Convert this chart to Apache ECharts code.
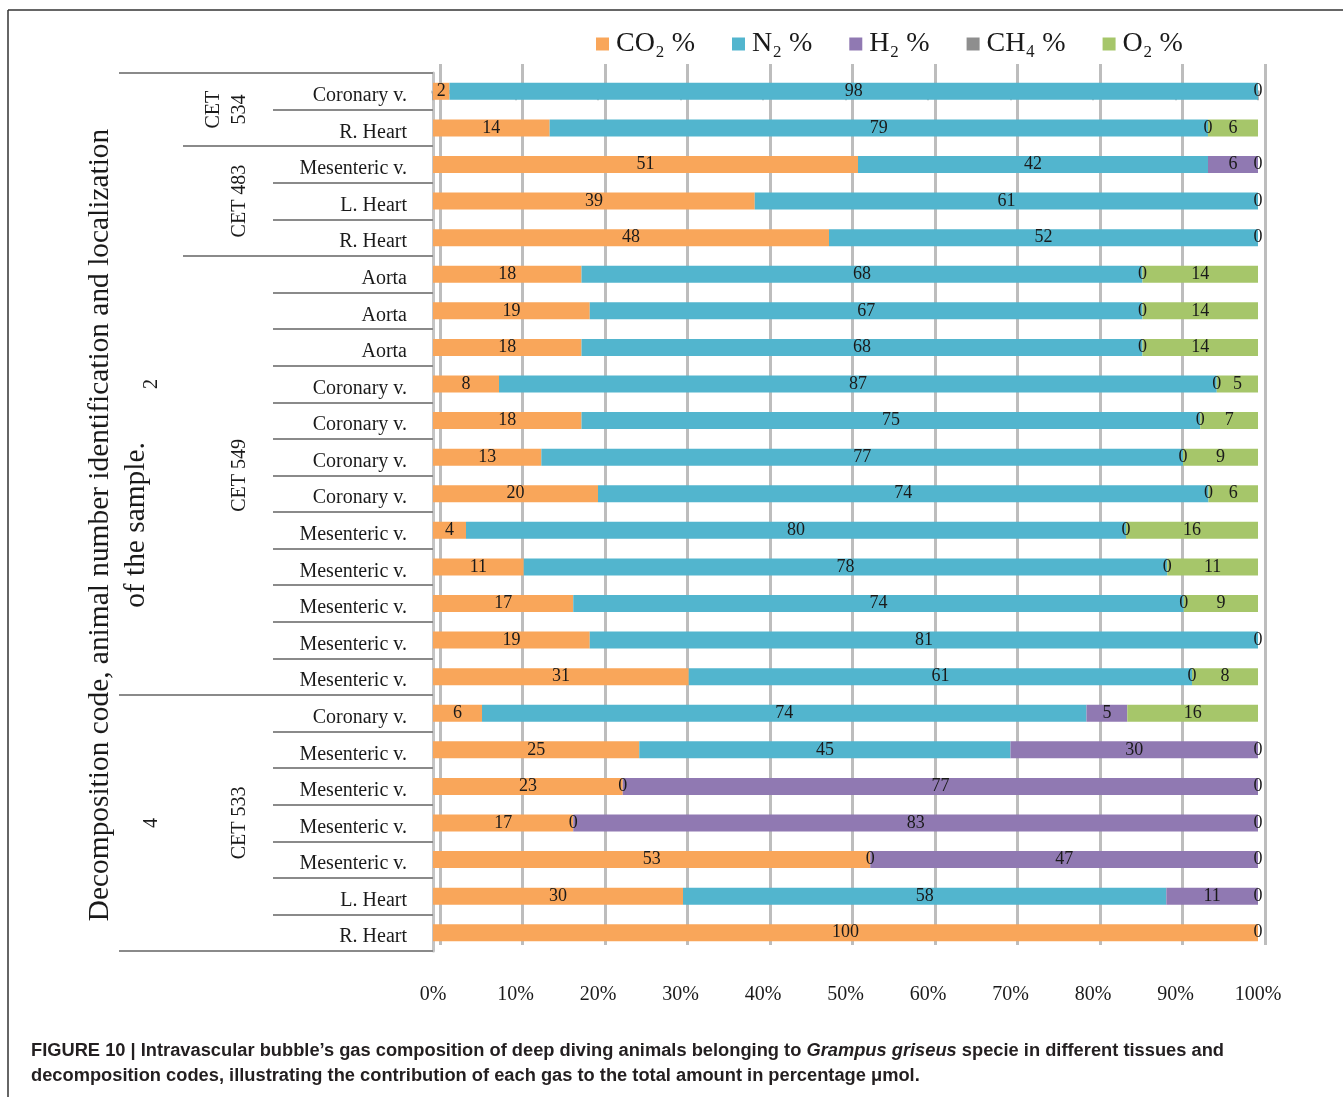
<!DOCTYPE html>
<html>
<head>
<meta charset="utf-8">
<script src="https://cdn.jsdelivr.net/npm/echarts@6/dist/echarts.min.js"></script>
<style>
  html, body { margin: 0; padding: 0; background: #ffffff; }
  #chart { width: 1343px; height: 1097px; }
</style>
</head>
<body>
<div id="chart"></div>
<script>
// ---------- DATA ----------
const tissues = ['Coronary v.', 'R. Heart', 'Mesenteric v.', 'L. Heart', 'R. Heart', 'Aorta', 'Aorta', 'Aorta',
  'Coronary v.', 'Coronary v.', 'Coronary v.', 'Coronary v.', 'Mesenteric v.', 'Mesenteric v.', 'Mesenteric v.',
  'Mesenteric v.', 'Mesenteric v.', 'Coronary v.', 'Mesenteric v.', 'Mesenteric v.', 'Mesenteric v.',
  'Mesenteric v.', 'L. Heart', 'R. Heart'];

const co2 = [2, 14, 51, 39, 48, 18, 19, 18, 8, 18, 13, 20, 4, 11, 17, 19, 31, 6, 25, 23, 17, 53, 30, 100];
const n2  = [98, 79, 42, 61, 52, 68, 67, 68, 87, 75, 77, 74, 80, 78, 74, 81, 61, 74, 45, 0, 0, 0, 58, null];
const h2  = [null, 0, 6, null, null, 0, 0, 0, 0, 0, 0, 0, 0, 0, 0, null, 0, 5, 30, 77, 83, 47, 11, null];
const ch4 = [null, null, null, null, null, null, null, null, null, null, null, null, null, null, null, null, null, null, null, null, null, null, null, null];
const o2  = [0, 6, 0, 0, 0, 14, 14, 14, 5, 7, 9, 6, 16, 11, 9, 0, 8, 16, 0, 0, 0, 0, 0, 0];

const seriesNames = ['CO₂ %', 'N₂ %', 'H₂ %', 'CH₄ %', 'O₂ %'];

const animalLabels = ['CET\n534', 'CET 483', 'CET 549', 'CET 533'];
const animalStart  = [0, 2, 5, 17];
const animalEnd    = [1, 4, 16, 23];

const codeLabels = ['2', '4'];
const codeStart  = [0, 17];
const codeEnd    = [16, 23];

const xTicks = [0, 10, 20, 30, 40, 50, 60, 70, 80, 90, 100];

const yTitle = 'Decomposition code, animal number identification and localization\nof the sample.';

// ---------- BUILD ----------
const colors = ['#F9A65A', '#52B5CE', '#9079B2', '#8E8E8E', '#A6C66A'];
const allSeries = [co2, n2, h2, ch4, o2];
const totals = tissues.map((_, i) => allSeries.reduce((s, arr) => s + (arr[i] == null ? 0 : arr[i]), 0));

const serif = '"Liberation Serif", "Times New Roman", "DejaVu Serif", serif';

const animalCenters = animalStart.map((s, i) => (s + animalEnd[i]) / 2);
const animalBounds = animalStart.slice(1).map(s => s - 0.5)
  .filter(b => codeStart.indexOf(b + 0.5) < 0);
const codeCenters = codeStart.map((s, i) => (s + codeEnd[i]) / 2);
const codeBounds = [codeStart[0] - 0.5].concat(codeStart.slice(1).map(s => s - 0.5), [codeEnd[codeEnd.length - 1] + 0.5]);

const nRows = tissues.length;

const barSeries = allSeries.map((arr, k) => ({
  name: seriesNames[k],
  type: 'bar',
  stack: 'total',
  xAxisIndex: 0,
  yAxisIndex: 0,
  barWidth: 17,
  itemStyle: { color: colors[k] },
  label: {
    show: true,
    position: 'inside',
    color: '#1a1a1a',
    fontFamily: serif,
    fontSize: 18,
    formatter: p => (p.data && p.data.raw != null) ? String(p.data.raw) : ''
  },
  data: arr.map((v, i) => v == null ? { value: null, raw: null } : { value: v / totals[i] * 100, raw: v })
}));

const option = {
  backgroundColor: '#ffffff',
  animation: false,
  color: colors,
  title: {
    left: 26,
    top: 1033,
    text: '{b|FIGURE 10 | Intravascular bubble’s gas composition of deep diving animals belonging to }{i|Grampus griseus}{b| specie in different tissues and}\n{b|decomposition codes, illustrating the contribution of each gas to the total amount in percentage μmol.}',
    textStyle: {
      rich: {
        b: { fontFamily: '"Liberation Sans", Arial, sans-serif', fontWeight: 'bold', fontSize: 18.3, color: '#231F20', lineHeight: 25 },
        i: { fontFamily: '"Liberation Sans", Arial, sans-serif', fontWeight: 'bold', fontStyle: 'italic', fontSize: 18.3, color: '#231F20', lineHeight: 25 }
      }
    }
  },
  legend: {
    top: 25,
    left: 591,
    itemWidth: 13,
    itemHeight: 13,
    itemGap: 37,
    icon: 'rect',
    data: seriesNames,
    textStyle: { fontFamily: serif, fontSize: 28, color: '#1a1a1a', padding: [0, 0, 0, 2] }
  },
  graphic: [
    { type: 'line', shape: { x1: 8, y1: 10, x2: 1343, y2: 10 }, style: { stroke: '#333', lineWidth: 1.5 } },
    { type: 'line', shape: { x1: 8, y1: 10, x2: 8, y2: 1097 }, style: { stroke: '#333', lineWidth: 1.5 } }
  ],
  grid: [
    { left: 433, right: 85, top: 73, bottom: 146, outerBoundsMode: 'none', containLabel: false },
    { left: 440, right: 78, top: 64, bottom: 152, outerBoundsMode: 'none', containLabel: false }
  ],
  xAxis: [
    {
      type: 'value', gridIndex: 0, min: 0, max: 100, interval: 10, position: 'bottom',
      axisLine: { show: true, lineStyle: { color: '#c4c4c4', width: 4 } },
      axisTick: { show: true, length: 9, lineStyle: { color: '#9a9a9a', width: 1.5 } },
      splitLine: { show: false },
      axisLabel: { margin: 34, fontFamily: serif, fontSize: 20, color: '#1a1a1a', formatter: '{value}%' }
    },
    {
      type: 'value', gridIndex: 1, min: 0, max: 100, interval: 10, position: 'bottom',
      axisLine: { show: false }, axisTick: { show: false }, axisLabel: { show: false },
      splitLine: { show: true, lineStyle: { color: '#bdbdbd', width: 3 } }
    }
  ],
  yAxis: [
    {
      type: 'category', gridIndex: 0, inverse: true, data: tissues, position: 'left',
      axisLine: { show: true, lineStyle: { color: '#c4c4c4', width: 3 } },
      axisTick: { show: true, length: 160, lineStyle: { color: '#8a8a8a', width: 2 } },
      axisLabel: { margin: 26, fontFamily: serif, fontSize: 20, color: '#1a1a1a', verticalAlign: 'top', lineHeight: 9 }
    },
    {
      type: 'value', gridIndex: 0, inverse: true, min: -0.5, max: nRows - 0.5, position: 'left',
      axisLine: { show: false },
      splitLine: { show: false },
      axisTick: { show: true, length: 250, customValues: animalBounds, lineStyle: { color: '#8a8a8a', width: 2 } },
      axisLabel: {
        show: true, customValues: animalCenters, rotate: 90, margin: 180,
        fontFamily: serif, fontSize: 20, color: '#1a1a1a', lineHeight: 26,
        formatter: v => { const i = animalCenters.indexOf(v); return i >= 0 ? animalLabels[i] : ''; }
      }
    },
    {
      type: 'value', gridIndex: 0, inverse: true, min: -0.5, max: nRows - 0.5, position: 'left',
      axisLine: { show: false },
      splitLine: { show: false },
      axisTick: { show: true, length: 314, customValues: codeBounds, lineStyle: { color: '#8a8a8a', width: 2 } },
      axisLabel: {
        show: true, customValues: codeCenters, rotate: 90, margin: 271,
        fontFamily: serif, fontSize: 20, color: '#1a1a1a',
        formatter: v => { const i = codeCenters.indexOf(v); return i >= 0 ? codeLabels[i] : ''; }
      },
      name: yTitle,
      nameLocation: 'middle',
      nameRotate: 90,
      nameGap: 279,
      nameMoveOverlap: false,
      nameTextStyle: { fontFamily: serif, fontSize: 29.4, color: '#1a1a1a', lineHeight: 36, padding: [0, 26, 0, 0] }
    },
    {
      type: 'value', gridIndex: 1, show: false, position: 'left'
    }
  ],
  series: barSeries
};

const chart = echarts.init(document.getElementById('chart'), null, { renderer: 'canvas' });
chart.setOption(option);
</script>
</body>
</html>
